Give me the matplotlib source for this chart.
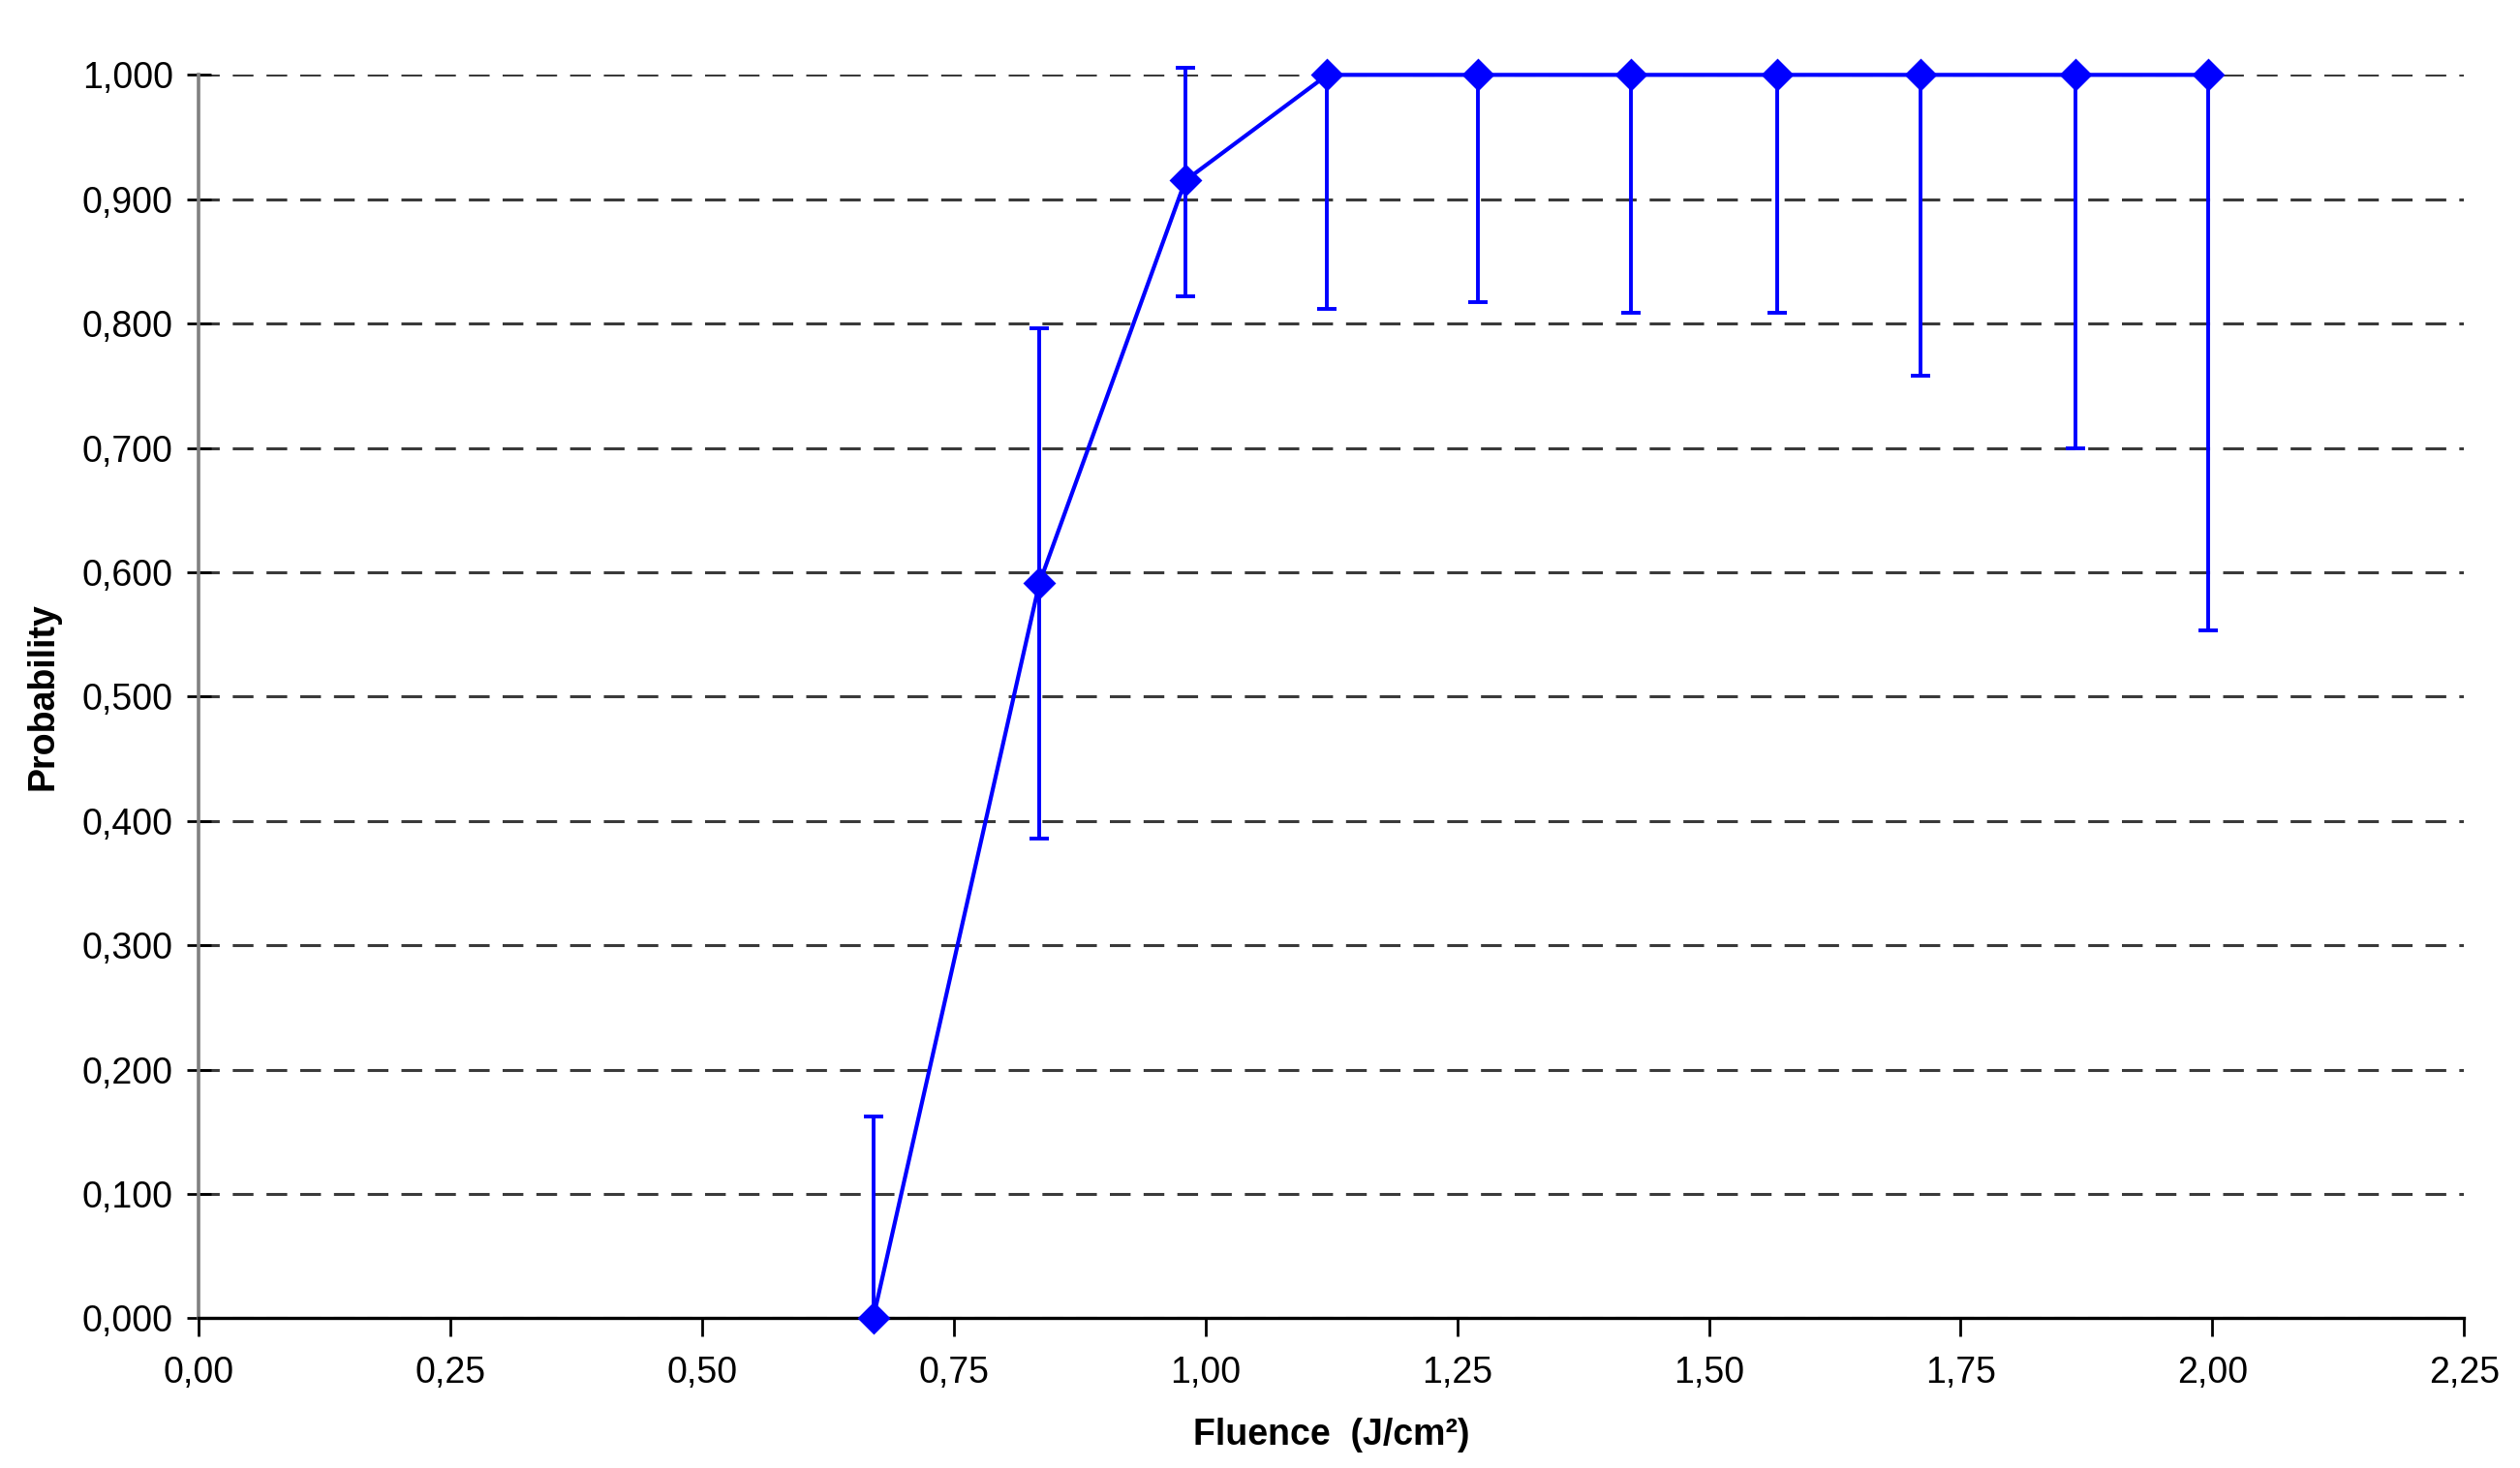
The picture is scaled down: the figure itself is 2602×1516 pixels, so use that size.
import matplotlib
matplotlib.use('Agg')
import matplotlib.pyplot as plt
from matplotlib.ticker import FuncFormatter, MultipleLocator

# fluence (J/cm²) and probability
fluence = [0.67, 0.835, 0.98, 1.121, 1.271, 1.423, 1.568, 1.71, 1.864, 1.996]
prob = [0.0, 0.591, 0.915, 1.0, 1.0, 1.0, 1.0, 1.0, 1.0, 1.0]
upper = [0.162, 0.796, 1.006, 1.0, 1.0, 1.0, 1.0, 1.0, 1.0, 1.0]
lower = [0.0, 0.386, 0.822, 0.812, 0.817, 0.809, 0.809, 0.758, 0.700, 0.553]

x_label = 'Fluence  (J/cm²)'
y_label = 'Probability'

plt.rcParams['font.family'] = ['Liberation Sans', 'DejaVu Sans']

err_lo = [p - lo for p, lo in zip(prob, lower)]
err_hi = [hi - p for p, hi in zip(prob, upper)]

fig = plt.figure(figsize=(13.01, 7.58), dpi=200)
ax = fig.add_axes([0.0788, 0.102, 0.899, 0.847])

ax.errorbar(fluence, prob, yerr=[err_lo, err_hi], color='#0000ff', lw=1.5,
            elinewidth=1.4, capsize=3.5, capthick=1.4, marker='D',
            markersize=7.5, zorder=3, clip_on=False)

ax.set_xlim(0, 2.25)
ax.set_ylim(0, 1.0)
ax.xaxis.set_major_locator(MultipleLocator(0.25))
ax.yaxis.set_major_locator(MultipleLocator(0.1))
ax.xaxis.set_major_formatter(FuncFormatter(lambda v, p: f'{v:.2f}'.replace('.', ',')))
ax.yaxis.set_major_formatter(FuncFormatter(lambda v, p: f'{v:.3f}'.replace('.', ',')))

ax.yaxis.grid(True, linestyle=(0, (7, 4.4)), color='#3a3a3a', lw=1.1)
ax.set_axisbelow(True)

for s in ['top', 'right']:
    ax.spines[s].set_visible(False)
ax.spines['left'].set_color('#808080')
ax.spines['left'].set_linewidth(1.3)
ax.spines['bottom'].set_color('#000000')
ax.spines['bottom'].set_linewidth(1.2)

ax.tick_params(axis='x', direction='out', length=7, width=1, pad=7, labelsize=13.5)
ax.tick_params(axis='y', direction='inout', length=9, width=1, pad=5, labelsize=13.5)

ax.set_xlabel(x_label, fontsize=13.5, fontweight='bold', labelpad=10)
ax.set_ylabel(y_label, fontsize=13.5, fontweight='bold', labelpad=8)

fig.savefig('out.png', dpi=200)
